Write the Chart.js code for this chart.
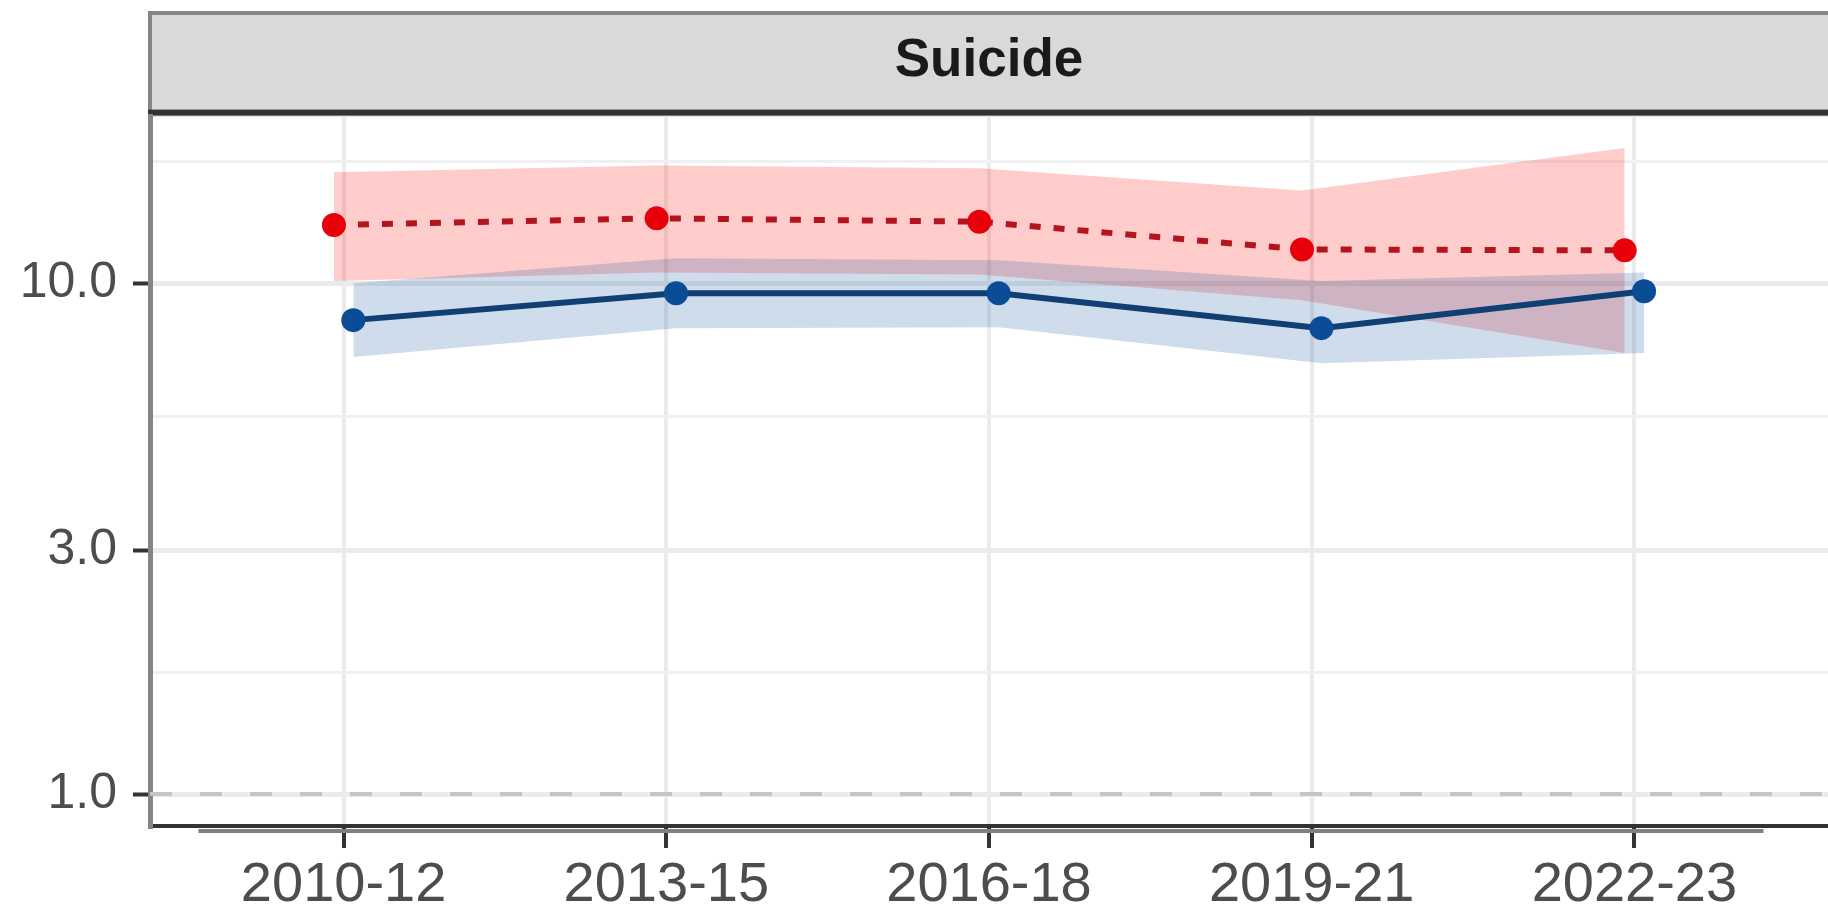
<!DOCTYPE html>
<html>
<head>
<meta charset="utf-8">
<script src="https://cdn.jsdelivr.net/npm/chart.js@4.4.1/dist/chart.umd.min.js"></script>
<style>
  html, body { margin: 0; padding: 0; background: #fff; overflow: hidden; }
  #wrap { width: 1840px; height: 910px; }
</style>
</head>
<body>
<div id="wrap"><canvas id="suicideChart" width="1840" height="910"></canvas></div>
<script>
const periods = ["2010-12", "2013-15", "2016-18", "2019-21", "2022-23"];
const panelTitle = "Suicide";

// red group (dashed line)
const redRate  = [13.0, 13.4, 13.2, 11.65, 11.6];
const redUpper = [16.5, 17.0, 16.8, 15.2, 18.4];
const redLower = [10.1, 10.5, 10.4, 9.26, 7.3];

// blue group (solid line)
const blueRate  = [8.47, 9.56, 9.56, 8.17, 9.65];
const blueUpper = [10.0, 11.2, 11.1, 10.1, 10.5];
const blueLower = [7.17, 8.17, 8.2, 6.97, 7.3];

const yTickValues = [1, 3, 10];
const yTickLabels = ["1.0", "3.0", "10.0"];
const refValue = 1;

const dodge = 0.03;
const axisFont = "'Liberation Sans', Arial, sans-serif";

function pts(values, shift) {
  return values.map((v, i) => ({ x: i + shift, y: v }));
}

// minor grid lines sit halfway between major breaks (log space)
const minorValues = [];
for (let i = 0; i < yTickValues.length; i++) {
  const next = i < yTickValues.length - 1 ? yTickValues[i + 1] : yTickValues[i] * 3;
  minorValues.push(Math.sqrt(yTickValues[i] * next));
}
const isMajor = v => yTickValues.some(t => Math.abs(t - v) < 1e-9);

const stripPlugin = {
  id: "strip",
  beforeDraw(chart) {
    const { ctx, chartArea: a } = chart;
    ctx.save();
    ctx.fillStyle = "#D9D9D9";
    ctx.fillRect(a.left, 13, a.right - a.left, a.top - 13);
    ctx.strokeStyle = "#858585";
    ctx.lineWidth = 4;
    ctx.beginPath();
    ctx.moveTo(a.left, a.top);
    ctx.lineTo(a.left, 13);
    ctx.lineTo(a.right + 10, 13);
    ctx.stroke();
    ctx.fillStyle = "#333333";
    ctx.fillRect(a.left - 2, a.top - 7, a.right - a.left + 4, 6);
    ctx.restore();
  },
  afterDraw(chart) {
    const { ctx, chartArea: a } = chart;
    const x = chart.scales.x;
    ctx.save();
    ctx.strokeStyle = "#808080";
    ctx.lineWidth = 4;
    ctx.beginPath();
    ctx.moveTo(x.getPixelForValue(-0.45), a.bottom + 5);
    ctx.lineTo(x.getPixelForValue(4.4), a.bottom + 5);
    ctx.stroke();
    ctx.restore();
  }
};

const ribbon = (data, color, fill, order) => ({
  data: data,
  borderWidth: 0,
  borderColor: "rgba(0,0,0,0)",
  backgroundColor: color,
  pointRadius: 0,
  fill: fill,
  order: order
});

new Chart(document.getElementById("suicideChart"), {
  type: "line",
  data: {
    datasets: [
      {
        label: "red",
        data: pts(redRate, -dodge),
        borderColor: "#B3141E",
        borderWidth: 6,
        borderDash: [11, 13],
        pointRadius: 12,
        pointBackgroundColor: "#E8000B",
        pointBorderWidth: 0,
        fill: false,
        order: 1
      },
      {
        label: "blue",
        data: pts(blueRate, dodge),
        borderColor: "#0F3F73",
        borderWidth: 6,
        pointRadius: 12,
        pointBackgroundColor: "#0B4C96",
        pointBorderWidth: 0,
        fill: false,
        order: 0
      },
      {
        label: "ref",
        data: [{ x: -0.6, y: refValue }, { x: 4.6, y: refValue }],
        borderColor: "#C4C4C4",
        borderWidth: 4,
        borderDash: [22, 28],
        pointRadius: 0,
        fill: false,
        order: 2
      },
      ribbon(pts(blueUpper, dodge), "rgba(8,81,156,0.2)", "+1", 3),
      ribbon(pts(blueLower, dodge), "rgba(0,0,0,0)", false, 3),
      ribbon(pts(redUpper, -dodge), "rgba(255,0,0,0.2)", "+1", 4),
      ribbon(pts(redLower, -dodge), "rgba(0,0,0,0)", false, 4)
    ]
  },
  options: {
    responsive: false,
    animation: false,
    layout: { padding: { top: 13, right: 2, left: 0, bottom: 0 } },
    elements: { line: { tension: 0 } },
    plugins: {
      legend: { display: false },
      tooltip: { enabled: false },
      title: {
        display: true,
        text: panelTitle,
        fullSize: false,
        color: "#1A1A1A",
        font: { family: axisFont, size: 53, weight: "bold" },
        padding: { top: 17, bottom: 23 }
      }
    },
    scales: {
      x: {
        type: "linear",
        min: -0.6,
        max: 4.6,
        afterBuildTicks: scale => {
          scale.ticks = periods.map((p, i) => ({ value: i }));
        },
        afterFit: scale => { scale.height = 84; },
        ticks: {
          autoSkip: false,
          maxRotation: 0,
          padding: 4,
          color: "#4D4D4D",
          font: { family: axisFont, size: 56 },
          callback: v => periods[v] ?? ""
        },
        grid: {
          color: "#EBEBEB",
          lineWidth: 4,
          tickColor: "#333333",
          tickLength: 22,
          tickWidth: 4
        },
        border: { display: true, color: "#333333", width: 4 }
      },
      y: {
        type: "logarithmic",
        min: 0.866,
        max: 21.2,
        afterBuildTicks: scale => {
          scale.ticks = yTickValues.concat(minorValues)
            .sort((a, b) => a - b)
            .map(v => ({ value: v }));
        },
        afterFit: scale => { scale.width = 150; },
        ticks: {
          autoSkip: false,
          padding: 16,
          color: "#4D4D4D",
          font: { family: axisFont, size: 50 },
          callback: v => {
            const i = yTickValues.findIndex(t => Math.abs(t - v) < 1e-9);
            return i >= 0 ? yTickLabels[i] : "";
          }
        },
        grid: {
          color: ctx => isMajor(ctx.tick.value) ? "#EBEBEB" : "#F0F0F0",
          lineWidth: ctx => isMajor(ctx.tick.value) ? 5 : 3,
          tickColor: ctx => isMajor(ctx.tick.value) ? "#333333" : "rgba(0,0,0,0)",
          tickLength: 17,
          tickWidth: 4
        },
        border: { display: true, color: "#858585", width: 5 }
      }
    }
  },
  plugins: [stripPlugin]
});
</script>
</body>
</html>
